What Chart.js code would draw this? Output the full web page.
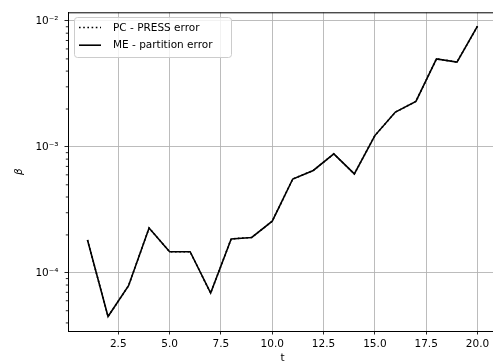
<!DOCTYPE html>
<html><head><meta charset="utf-8">
<script src="https://cdn.jsdelivr.net/npm/chart.js@4/dist/chart.umd.min.js"></script>
<style>html,body{margin:0;padding:0;overflow:hidden;background:#fff;width:493px;height:364px}canvas{display:block}</style>
</head><body><canvas id="c" width="520" height="364"></canvas>
<script>
const tValues = [1,2,3,4,5,6,7,8,9,10,11,12,13,14,15,16,17,18,19,20];
const mePartitionError = [1.82e-4,4.5e-5,7.9e-5,2.27e-4,1.47e-4,1.47e-4,6.9e-5,1.86e-4,1.91e-4,2.57e-4,5.56e-4,6.5e-4,8.8e-4,6.1e-4,1.23e-3,1.89e-3,2.30e-3,5.0e-3,4.72e-3,9.1e-3];
const pcPressError = [1.82e-4,4.5e-5,7.9e-5,2.27e-4,1.47e-4,1.47e-4,6.9e-5,1.86e-4,1.91e-4,2.57e-4,5.56e-4,6.5e-4,8.8e-4,6.1e-4,1.23e-3,1.89e-3,2.30e-3,5.0e-3,4.72e-3,9.1e-3];
const xTickValues = [2.5,5,7.5,10,12.5,15,17.5,20];
const yDecades = [-5,-4,-3,-2,-1];
const seriesLabels = ['PC - PRESS error','ME - partition error'];
const xAxisLabel = 't';
const yAxisLabel = 'β';

const FONT = 'DejaVu Sans';
const FS = 10.5;
Chart.defaults.font.family = FONT;
Chart.defaults.font.size = FS;
Chart.defaults.color = '#000';

const supMap = {'-':'⁻','0':'⁰','1':'¹','2':'²','3':'³','4':'⁴','5':'⁵','6':'⁶','7':'⁷','8':'⁸','9':'⁹'};
function isPow10(v){ const l = Math.log10(v); return Math.abs(l - Math.round(l)) < 1e-6; }
function powLabel(v){ const e = Math.round(Math.log10(v)); return '10' + String(e).split('').map(c=>supMap[c]).join(''); }

const toPts = arr => tValues.map((t,i)=>({x:t,y:arr[i]}));

const minorTicks = {
  id:'minorTicks',
  afterDraw(chart){
    const ctx = chart.ctx, y = chart.scales.y, a = chart.chartArea;
    ctx.save();
    ctx.strokeStyle = '#000'; ctx.lineWidth = 0.85;
    y.ticks.forEach(t=>{
      if (isPow10(t.value)) return;
      const py = y.getPixelForValue(t.value);
      if (py < a.top || py > a.bottom) return;
      ctx.beginPath(); ctx.moveTo(a.left-2.2, py); ctx.lineTo(a.left, py); ctx.stroke();
    });
    // frame
    ctx.lineWidth = 1;
    ctx.strokeRect(a.left+0.5, a.top+0.5, a.right-a.left, a.bottom-a.top);
    ctx.restore();
  }
};

const insideLegend = {
  id:'insideLegend',
  afterDatasetsDraw(chart){
    const ctx = chart.ctx;
    const x0 = 74.5, y0 = 17.5, w = 157, h = 40, r = 3;
    ctx.save();
    ctx.beginPath();
    ctx.roundRect(x0, y0, w, h, r);
    ctx.fillStyle = 'rgba(255,255,255,0.8)'; ctx.fill();
    ctx.strokeStyle = '#cccccc'; ctx.lineWidth = 1; ctx.stroke();
    ctx.font = FS + 'px "' + FONT + '"';
    ctx.textBaseline = 'middle'; ctx.fillStyle = '#000';
    chart.data.datasets.forEach((ds,i)=>{
      const cy = 27.5 + i*17.7;
      ctx.beginPath();
      ctx.setLineDash(ds.borderDash || []);
      ctx.strokeStyle = ds.borderColor; ctx.lineWidth = ds.borderWidth;
      ctx.moveTo(79, cy); ctx.lineTo(101, cy); ctx.stroke();
      ctx.setLineDash([]);
      ctx.fillText(ds.label, 113, cy+0.5);
    });
    ctx.restore();
  }
};

new Chart(document.getElementById('c'), {
  type:'line',
  data:{
    datasets:[
      {label:seriesLabels[0], data:toPts(pcPressError), borderColor:'#000', borderWidth:1.6, borderDash:[1.6,2.6], pointRadius:0, fill:false, tension:0},
      {label:seriesLabels[1], data:toPts(mePartitionError), borderColor:'#000', borderWidth:1.6, pointRadius:0, fill:false, tension:0}
    ]
  },
  options:{
    responsive:false, animation:false, devicePixelRatio:1,
    layout:{padding:{top:12, right:23, left:0, bottom:0}},
    plugins:{legend:{display:false}, tooltip:{enabled:false}},
    scales:{
      x:{
        type:'linear', min:0.05, max:20.95,
        afterBuildTicks: s => { s.ticks = xTickValues.map(v=>({value:v})); },
        afterFit: s => { s.height = 33; },
        ticks:{autoSkip:false, maxRotation:0, padding:3, callback: v => Number(v).toFixed(1)},
        grid:{color:'#b0b0b0', lineWidth:0.85, tickColor:'#000', tickLength:3.5, drawTicks:true},
        border:{display:true, color:'#000', width:1},
        title:{display:true, text:xAxisLabel, padding:{top:0,bottom:-1}, font:{size:FS}}
      },
      y:{
        type:'logarithmic', min:Math.pow(10,-4.462), max:Math.pow(10,-1.931),
        afterBuildTicks: s => {
          const arr = [];
          yDecades.forEach(e => { for (let m=1;m<=9;m++){ const v = m*Math.pow(10,e); if (v>=s.min && v<=s.max) arr.push({value:v}); } });
          s.ticks = arr;
        },
        afterFit: s => { s.width = 68; },
        ticks:{autoSkip:false, padding:6, callback: v => isPow10(v) ? powLabel(v) : ''},
        grid:{
          color: c => (c.tick && isPow10(c.tick.value)) ? '#b0b0b0' : 'rgba(0,0,0,0)',
          tickColor: c => (c.tick && isPow10(c.tick.value)) ? '#000' : 'rgba(0,0,0,0)',
          lineWidth:0.85, tickLength:3.5, drawTicks:true
        },
        border:{display:true, color:'#000', width:1},
        title:{display:true, text:yAxisLabel, padding:{top:13,bottom:0}, font:{size:FS, style:'italic'}}
      }
    }
  },
  plugins:[minorTicks, insideLegend]
});
</script>
</body></html>
